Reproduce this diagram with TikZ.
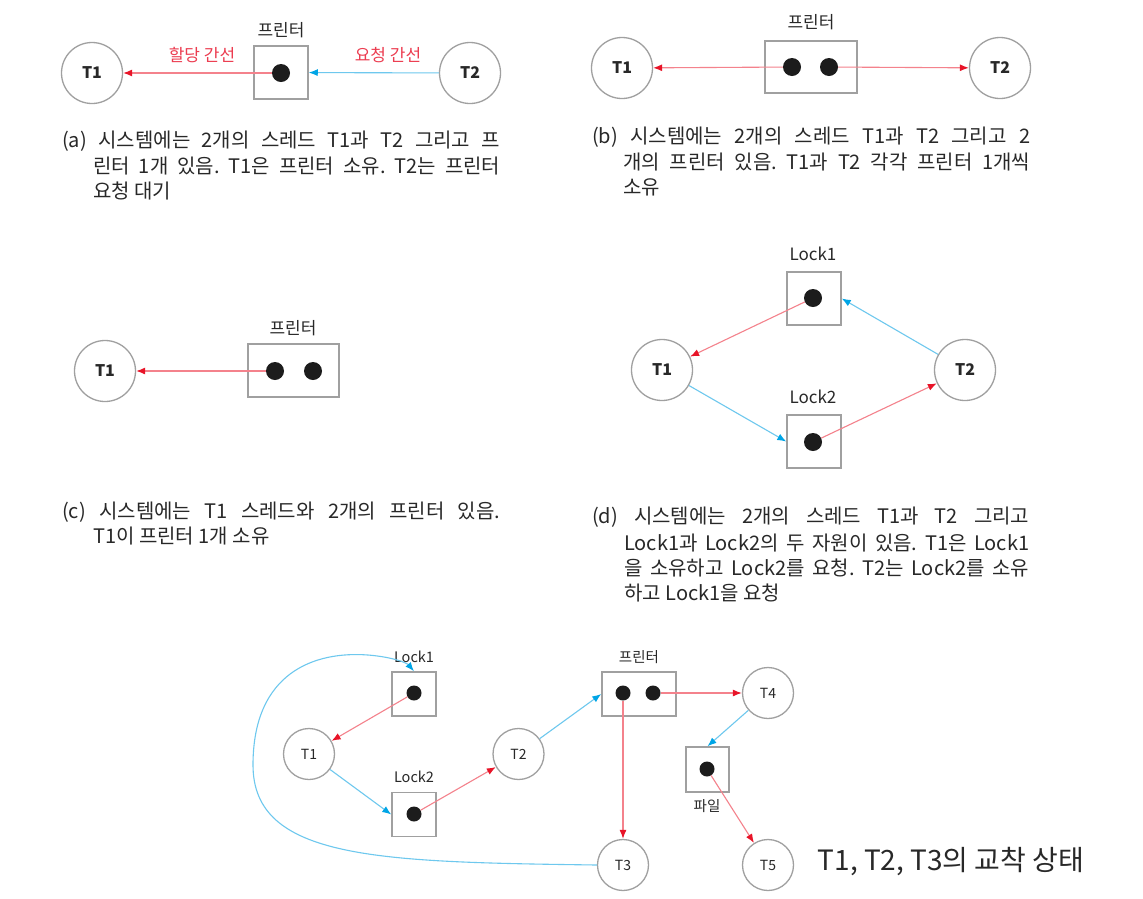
\documentclass[tikz,border=0pt]{standalone}
\usepackage{fontspec}
\setmainfont{Noto Sans CJK KR}
\usetikzlibrary{arrows.meta}
\definecolor{cgray}{RGB}{160,160,160}
\definecolor{rline}{RGB}{244,130,140}
\definecolor{rtip}{RGB}{232,20,40}
\definecolor{bline}{RGB}{110,200,238}
\definecolor{btip}{RGB}{0,165,230}
\definecolor{lblred}{RGB}{236,60,80}
\definecolor{dotc}{RGB}{28,28,28}
\definecolor{txt}{RGB}{40,40,40}
\newcommand\jline[2]{\makebox[#1][s]{#2}}
\frenchspacing
\begin{document}
\begin{tikzpicture}[x=1pt,y=-1pt,
 thr/.style={circle,draw=cgray,line width=1.3pt,minimum size=61pt,inner sep=0pt,text=txt,font=\fontsize{16}{16}\selectfont\bfseries},
 thrs/.style={thr,minimum size=51pt,font=\fontsize{14}{14}\selectfont},
 res/.style={draw=cgray,line width=1.5pt,inner sep=0pt},
 tok/.style={circle,fill=dotc,inner sep=0pt,minimum size=18pt},
 toks/.style={tok,minimum size=15pt},
 lbl/.style={text=txt,font=\fontsize{17}{17}\selectfont},
 lbls/.style={text=txt,font=\fontsize{14.5}{15}\selectfont},
 redlbl/.style={text=lblred,font=\fontsize{17}{17}\selectfont},
 alloc/.style={rline,line width=1.1pt,-{Latex[length=9pt,width=7pt,color=rtip]}},
 req/.style={bline,line width=1.1pt,-{Latex[length=9pt,width=7pt,color=btip]}},
 captxt/.style={anchor=west,text=txt,font=\fontsize{20}{24}\selectfont,inner sep=0pt}
]
\useasboundingbox[fill=white] (0,0) rectangle (1143,898);

% ---------- (a)
\node[thr] (aT1) at (92,73) {T1};
\node[res,minimum width=54pt,minimum height=53pt] (aP) at (281,72.5) {};
\node[tok] (aPd) at (281,73) {};
\node[thr] (aT2) at (470,73) {T2};
\node[lbl] (aPl) at (281,30) {프린터};
\node[redlbl] (aAl) at (202,55) {할당 간선};
\node[redlbl] (aRq) at (388,55) {요청 간선};
\draw[alloc] (aPd) -- (aT1);
\draw[req] (aT2) -- (aP);
\node[captxt] (aC1) at (62,141) {\jline{438pt}{(a) 시스템에는 2개의 스레드 T1과 T2 그리고 프}};
\node[captxt] (aC2) at (93,166) {\jline{407pt}{린터 1개 있음. T1은 프린터 소유. T2는 프린터}};
\node[captxt] (aC3) at (93,191) {요청 대기};

% ---------- (b)
\node[thr] (bT1) at (622,68) {T1};
\node[thr] (bT2) at (1000,68) {T2};
\node[res,minimum width=92pt,minimum height=52pt] (bP) at (811,67) {};
\node[tok] (bd1) at (792,67) {};
\node[tok] (bd2) at (829,67) {};
\node[lbl] (bPl) at (811,22) {프린터};
\draw[alloc] (bd1) -- (bT1);
\draw[alloc] (bd2) -- (bT2);
\node[captxt] (bC1) at (592,137) {\jline{438pt}{(b) 시스템에는 2개의 스레드 T1과 T2 그리고 2}};
\node[captxt] (bC2) at (623,162) {\jline{407pt}{개의 프린터 있음. T1과 T2 각각 프린터 1개씩}};
\node[captxt] (bC3) at (623,187) {소유};

% ---------- (c)
\node[thr] (cT1) at (105,371) {T1};
\node[res,minimum width=91pt,minimum height=53pt] (cP) at (293.5,370.5) {};
\node[tok] (cd1) at (275,371) {};
\node[tok] (cd2) at (313,371) {};
\node[lbl] (cPl) at (293,328) {프린터};
\draw[alloc] (cd1) -- (cT1);
\node[captxt] (cC1) at (62,512) {\jline{438pt}{(c) 시스템에는 T1 스레드와 2개의 프린터 있음.}};
\node[captxt] (cC2) at (93,536) {T1이 프린터 1개 소유};

% ---------- (d)
\node[res,minimum width=54pt,minimum height=53pt] (dL1) at (814,298.5) {};
\node[tok] (dL1d) at (813,298) {};
\node[lbl] (dL1l) at (813,254) {Lock1};
\node[res,minimum width=54pt,minimum height=53pt] (dL2) at (814,441.5) {};
\node[tok] (dL2d) at (813,442) {};
\node[lbl] (dL2l) at (813,397) {Lock2};
\node[thr] (dT1) at (662,370) {T1};
\node[thr] (dT2) at (965,370) {T2};
\draw[alloc] (dL1d) -- (dT1);
\draw[req] (dT2) -- (dL1.east);
\draw[req] (dT1) -- (dL2.west);
\draw[alloc] (dL2d) -- (dT2);
\node[captxt] (dC1) at (592,517) {\jline{437pt}{(d) 시스템에는 2개의 스레드 T1과 T2 그리고}};
\node[captxt] (dC2) at (624,543) {\jline{405pt}{Lock1과 Lock2의 두 자원이 있음. T1은 Lock1}};
\node[captxt] (dC3) at (624,568) {\jline{405pt}{을 소유하고 Lock2를 요청. T2는 Lock2를 소유}};
\node[captxt] (dC4) at (624,593) {하고 Lock1을 요청};

% ---------- bottom
\node[res,minimum width=44pt,minimum height=44pt] (eL1) at (414,694) {};
\node[toks] (eL1d) at (414,693) {};
\node[lbls] (eL1l) at (414,657) {Lock1};
\node[thrs] (eT1) at (309,754) {T1};
\node[res,minimum width=44pt,minimum height=44pt] (eL2) at (414,814.5) {};
\node[toks] (eL2d) at (414,814) {};
\node[lbls] (eL2l) at (414,777) {Lock2};
\node[thrs] (eT2) at (518.5,754) {T2};
\node[res,minimum width=74pt,minimum height=44pt] (eP) at (639,694) {};
\node[toks] (ePd1) at (623,693) {};
\node[toks] (ePd2) at (653,693) {};
\node[lbls] (ePl) at (639,657) {프린터};
\node[thrs] (eT3) at (623,865) {T3};
\node[thrs] (eT4) at (768,693) {T4};
\node[res,minimum width=43pt,minimum height=45pt] (eF) at (707.5,769.5) {};
\node[toks] (eFd) at (707,769) {};
\node[lbls] (eFl) at (707,806) {파일};
\node[thrs] (eT5) at (768,865) {T5};
\node[text=txt,font=\fontsize{28}{28}\selectfont] (eCap) at (951,862) {T1, T2, T3의 교착 상태};

\draw[alloc] (eL1d) -- (eT1);
\draw[req] (eT1) -- (eL2.west);
\draw[alloc] (eL2d) -- (eT2);
\draw[req] (eT2) -- (eP.west);
\draw[alloc] (ePd1) -- (eT3);
\draw[alloc] (ePd2) -- (eT4);
\draw[req] (eT4) -- (eF.north);
\draw[alloc] (eFd) -- (eT5);
\draw[req] (eT3.west) .. controls (380,862) and (253,860) .. (253,765)
  .. controls (253,672) and (315,651) .. (368,655)
  .. controls (393,657) and (407,663) .. (eL1.north);
\end{tikzpicture}
\end{document}
